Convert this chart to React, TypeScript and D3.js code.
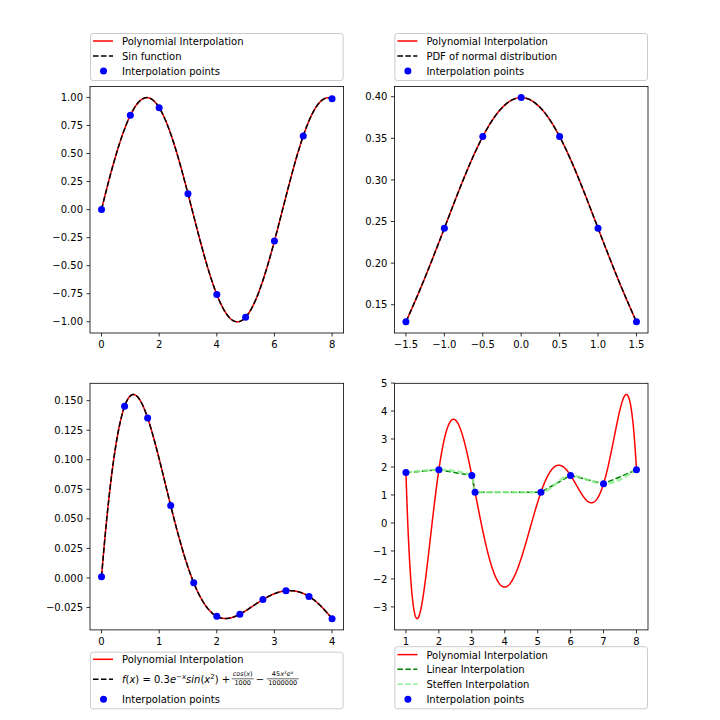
import React, { useRef, useState, useLayoutEffect } from "react";
import * as d3 from "d3";

// ---------- data ----------
// Panel 1: sin function
const sinX = [0, 1, 2, 3, 4, 5, 6, 7, 8];
const sinY = [0, 0.841, 0.909, 0.141, -0.757, -0.959, -0.279, 0.657, 0.989];
const sinXTicks = [0, 2, 4, 6, 8];
const sinYTicks = [-1, -0.75, -0.5, -0.25, 0, 0.25, 0.5, 0.75, 1];

// Panel 2: normal pdf
const pdfX = [-1.5, -1, -0.5, 0, 0.5, 1, 1.5];
const pdfY = [0.1295, 0.242, 0.3521, 0.3989, 0.3521, 0.242, 0.1295];
const pdfXTicks = [-1.5, -1, -0.5, 0, 0.5, 1, 1.5];
const pdfYTicks = [0.15, 0.2, 0.25, 0.3, 0.35, 0.4];

// Panel 3: custom function
const fX = [0, 0.4, 0.8, 1.2, 1.6, 2.0, 2.4, 2.8, 3.2, 3.6, 4.0];
const fY = [0.001, 0.1452, 0.1354, 0.0612, -0.0041, -0.0325, -0.0307, -0.0183, -0.0109, -0.0157, -0.0345];
const fXTicks = [0, 1, 2, 3, 4];
const fYTicks = [-0.025, 0, 0.025, 0.05, 0.075, 0.1, 0.125, 0.15];

// Panel 4: steffen comparison
const stX = [1, 2, 3, 3.1, 5.1, 6, 7, 8];
const stY = [1.8, 1.9, 1.7, 1.1, 1.1, 1.7, 1.4, 1.9];
const stXTicks = [1, 2, 3, 4, 5, 6, 7, 8];
const stYTicks = [-3, -2, -1, 0, 1, 2, 3, 4, 5];

// ---------- helpers ----------
const FONT = "'DejaVu Sans', sans-serif";
const DASH = "5.55,2.4";

function lagrange(xs: number[], ys: number[]) {
  return (x: number) => {
    let s = 0;
    for (let i = 0; i < xs.length; i++) {
      let p = ys[i];
      for (let j = 0; j < xs.length; j++) if (j !== i) p *= (x - xs[j]) / (xs[i] - xs[j]);
      s += p;
    }
    return s;
  };
}

function samplePoly(xs: number[], ys: number[], n = 800): [number, number][] {
  const f = lagrange(xs, ys);
  const [a, b] = d3.extent(xs) as [number, number];
  return d3.range(n + 1).map((k) => {
    const x = a + ((b - a) * k) / n;
    return [x, f(x)];
  });
}

function padded(vals: number[]): [number, number] {
  const [a, b] = d3.extent(vals) as [number, number];
  const m = (b - a) * 0.05;
  return [a - m, b + m];
}

type Scale = d3.ScaleLinear<number, number>;

function Panel(props: {
  id: string;
  L: number;
  T: number;
  W: number;
  H: number;
  xDom: [number, number];
  yDom: [number, number];
  xTicks: number[];
  yTicks: number[];
  xFmt: (v: number) => string;
  yFmt: (v: number) => string;
  lines: (x: Scale, y: Scale) => React.ReactNode;
  points: (x: Scale, y: Scale) => React.ReactNode;
}) {
  const { id, L, T, W, H } = props;
  const x = d3.scaleLinear().domain(props.xDom).range([L, L + W]);
  const y = d3.scaleLinear().domain(props.yDom).range([T + H, T]);
  return (
    <g>
      <defs>
        <clipPath id={id}>
          <rect x={L} y={T} width={W} height={H} />
        </clipPath>
      </defs>
      <g clipPath={`url(#${id})`}>{props.lines(x, y)}</g>
      {props.points(x, y)}
      <rect x={L} y={T} width={W} height={H} fill="none" stroke="black" strokeWidth={0.8} />
      {props.xTicks.map((t) => (
        <g key={"x" + t}>
          <line x1={x(t)} x2={x(t)} y1={T + H} y2={T + H + 3.5} stroke="black" strokeWidth={0.8} />
          <text x={x(t)} y={T + H + 15} textAnchor="middle" fontSize={10} fontFamily={FONT} fill="black">
            {props.xFmt(t)}
          </text>
        </g>
      ))}
      {props.yTicks.map((t) => (
        <g key={"y" + t}>
          <line x1={L - 3.5} x2={L} y1={y(t)} y2={y(t)} stroke="black" strokeWidth={0.8} />
          <text x={L - 7} y={y(t) + 3.6} textAnchor="end" fontSize={10} fontFamily={FONT} fill="black">
            {props.yFmt(t)}
          </text>
        </g>
      ))}
    </g>
  );
}

type Entry = {
  kind: "line" | "dot";
  color: string;
  width?: number;
  dash?: string;
  opacity?: number;
  label?: string;
  node?: React.ReactNode;
  cy: number;
};

function Legend({ L, T, W, H, entries }: { L: number; T: number; W: number; H: number; entries: Entry[] }) {
  return (
    <g>
      <rect x={L + 0.5} y={T + 0.5} width={W - 1} height={H - 1} rx={2.5} fill="white" fillOpacity={0.8} stroke="#cccccc" strokeWidth={1} />
      {entries.map((e, i) => (
        <g key={i}>
          {e.kind === "line" ? (
            <line
              x1={L + 3}
              x2={L + 23}
              y1={e.cy}
              y2={e.cy}
              stroke={e.color}
              strokeWidth={e.width ?? 1.5}
              strokeDasharray={e.dash}
              strokeOpacity={e.opacity ?? 1}
            />
          ) : (
            <circle cx={L + 13.5} cy={e.cy} r={3.5} fill={e.color} />
          )}
          {e.label ? (
            <text x={L + 32} y={e.cy + 4} fontSize={10} fontFamily={FONT} fill="black">
              {e.label}
            </text>
          ) : (
            e.node
          )}
        </g>
      ))}
    </g>
  );
}

function Formula({ x, cy }: { x: number; cy: number }) {
  const ref = useRef<SVGTextElement>(null);
  const [wA, setWA] = useState(104);
  useLayoutEffect(() => {
    if (ref.current) setWA(ref.current.getComputedTextLength());
  }, []);
  const base = cy + 3.6;
  const it = { fontStyle: "italic" as const };
  const f1 = x + wA + 1.5;
  const f1w = 22;
  const mx = f1 + f1w + 2;
  const f2 = mx + 11;
  const f2w = 32;
  const bar = cy - 0.5;
  return (
    <g fontFamily={FONT} fill="black">
      <text ref={ref} x={x} y={base} fontSize={10}>
        <tspan {...it}>f</tspan>
        <tspan>(</tspan>
        <tspan {...it}>x</tspan>
        <tspan>) = 0.3</tspan>
        <tspan {...it}>e</tspan>
        <tspan fontSize={7} dy={-4}>−</tspan>
        <tspan fontSize={7} {...it}>x</tspan>
        <tspan {...it} dy={4}>sin</tspan>
        <tspan>(</tspan>
        <tspan {...it}>x</tspan>
        <tspan fontSize={7} dy={-4}>2</tspan>
        <tspan dy={4}>) +</tspan>
      </text>
      <text x={f1 + f1w / 2} y={bar - 2.5} fontSize={6.5} textAnchor="middle">
        <tspan {...it}>cos</tspan>
        <tspan>(</tspan>
        <tspan {...it}>x</tspan>
        <tspan>)</tspan>
      </text>
      <line x1={f1} x2={f1 + f1w} y1={bar} y2={bar} stroke="black" strokeWidth={0.6} />
      <text x={f1 + f1w / 2} y={bar + 6} fontSize={6.5} textAnchor="middle">
        1000
      </text>
      <text x={mx} y={base} fontSize={10}>
        −
      </text>
      <text x={f2 + f2w / 2} y={bar - 2.5} fontSize={6.5} textAnchor="middle">
        <tspan>45</tspan>
        <tspan {...it}>x</tspan>
        <tspan fontSize={4.5} dy={-2.5}>2</tspan>
        <tspan {...it} dy={2.5}>e</tspan>
        <tspan fontSize={4.5} dy={-2.5} {...it}>x</tspan>
      </text>
      <line x1={f2} x2={f2 + f2w} y1={bar} y2={bar} stroke="black" strokeWidth={0.6} />
      <text x={f2 + f2w / 2} y={bar + 6} fontSize={6.5} textAnchor="middle">
        1000000
      </text>
    </g>
  );
}

// ---------- layout ----------
const W = 253.6;
const H = 246.6;
const LX = [90, 394.4];
const TY = [86.4, 383.3];

export default function App() {
  const line = d3
    .line<[number, number]>()
    .x((d) => d[0])
    .y((d) => d[1]);

  const p1 = samplePoly(sinX, sinY);
  const p2 = samplePoly(pdfX, pdfY);
  const p3 = samplePoly(fX, fY);
  const p4 = samplePoly(stX, stY);

  const polyPath = (pts: [number, number][], x: Scale, y: Scale) =>
    line(pts.map((d) => [x(d[0]), y(d[1])] as [number, number])) || "";

  const scatter = (xs: number[], ys: number[]) => (x: Scale, y: Scale) =>
    xs.map((v, i) => <circle key={i} cx={x(v)} cy={y(ys[i])} r={3.5} fill="blue" />);

  const curvePair = (pts: [number, number][]) => (x: Scale, y: Scale) => (
    <g fill="none">
      <path d={polyPath(pts, x, y)} stroke="red" strokeWidth={1.5} />
      <path d={polyPath(pts, x, y)} stroke="black" strokeWidth={1.5} strokeDasharray={DASH} />
    </g>
  );

  const fmt2 = d3.format(".2f");
  const fmt1 = d3.format(".1f");
  const fmt3 = d3.format(".3f");
  const fmtd = d3.format("d");

  const linearGen = d3
    .line<number>()
    .curve(d3.curveLinear);
  const steffenGen = d3
    .line<number>()
    .curve(d3.curveMonotoneX);

  return (
    <svg width={720} height={720} style={{ position: "absolute", left: 0, top: 0, background: "white" }} fontFamily={FONT}>
      <rect x={0} y={0} width={720} height={720} fill="white" />
      {/* Panel 1 */}
      <Panel
        id="c1"
        L={LX[0]}
        T={TY[0]}
        W={W}
        H={H}
        xDom={padded(sinX)}
        yDom={padded(p1.map((d) => d[1]).concat(sinY))}
        xTicks={sinXTicks}
        yTicks={sinYTicks}
        xFmt={fmtd}
        yFmt={fmt2}
        lines={curvePair(p1)}
        points={scatter(sinX, sinY)}
      />
      {/* Panel 2 */}
      <Panel
        id="c2"
        L={LX[1]}
        T={TY[0]}
        W={W}
        H={H}
        xDom={padded(pdfX)}
        yDom={padded(p2.map((d) => d[1]).concat(pdfY))}
        xTicks={pdfXTicks}
        yTicks={pdfYTicks}
        xFmt={fmt1}
        yFmt={fmt2}
        lines={curvePair(p2)}
        points={scatter(pdfX, pdfY)}
      />
      {/* Panel 3 */}
      <Panel
        id="c3"
        L={LX[0]}
        T={TY[1]}
        W={W}
        H={H}
        xDom={padded(fX)}
        yDom={padded(p3.map((d) => d[1]).concat(fY))}
        xTicks={fXTicks}
        yTicks={fYTicks}
        xFmt={fmtd}
        yFmt={fmt3}
        lines={curvePair(p3)}
        points={scatter(fX, fY)}
      />
      {/* Panel 4 */}
      <Panel
        id="c4"
        L={LX[1]}
        T={TY[1]}
        W={W}
        H={H}
        xDom={padded(stX)}
        yDom={padded(p4.map((d) => d[1]).concat(stY))}
        xTicks={stXTicks}
        yTicks={stYTicks}
        xFmt={fmtd}
        yFmt={fmtd}
        lines={(x, y) => {
          const lg = linearGen.x((_, i) => x(stX[i])).y((v) => y(v));
          const sg = steffenGen.x((_, i) => x(stX[i])).y((v) => y(v));
          return (
            <g fill="none">
              <path d={polyPath(p4, x, y)} stroke="red" strokeWidth={1.5} />
              <path d={lg(stY) || ""} stroke="green" strokeWidth={1.5} strokeDasharray={DASH} />
              <path d={sg(stY) || ""} stroke="#90ee90" strokeWidth={2.5} strokeOpacity={0.85} strokeDasharray="6,2.6" />
            </g>
          );
        }}
        points={scatter(stX, stY)}
      />

      {/* Legends */}
      <Legend
        L={LX[0]}
        T={33}
        W={W}
        H={48}
        entries={[
          { kind: "line", color: "red", label: "Polynomial Interpolation", cy: 41 },
          { kind: "line", color: "black", dash: DASH, label: "Sin function", cy: 56 },
          { kind: "dot", color: "blue", label: "Interpolation points", cy: 71 },
        ]}
      />
      <Legend
        L={LX[1]}
        T={33}
        W={W}
        H={48}
        entries={[
          { kind: "line", color: "red", label: "Polynomial Interpolation", cy: 41 },
          { kind: "line", color: "black", dash: DASH, label: "PDF of normal distribution", cy: 56 },
          { kind: "dot", color: "blue", label: "Interpolation points", cy: 71 },
        ]}
      />
      <Legend
        L={LX[0]}
        T={651.7}
        W={W}
        H={57.6}
        entries={[
          { kind: "line", color: "red", label: "Polynomial Interpolation", cy: 659.3 },
          { kind: "line", color: "black", dash: DASH, node: <Formula x={LX[0] + 32} cy={679.3} />, cy: 679.3 },
          { kind: "dot", color: "blue", label: "Interpolation points", cy: 699.3 },
        ]}
      />
      <Legend
        L={LX[1]}
        T={646.2}
        W={W}
        H={63.1}
        entries={[
          { kind: "line", color: "red", label: "Polynomial Interpolation", cy: 654.6 },
          { kind: "line", color: "green", dash: DASH, label: "Linear Interpolation", cy: 669.3 },
          { kind: "line", color: "#90ee90", width: 1.5, dash: DASH, label: "Steffen Interpolation", cy: 684.3 },
          { kind: "dot", color: "blue", label: "Interpolation points", cy: 699.3 },
        ]}
      />
    </svg>
  );
}
